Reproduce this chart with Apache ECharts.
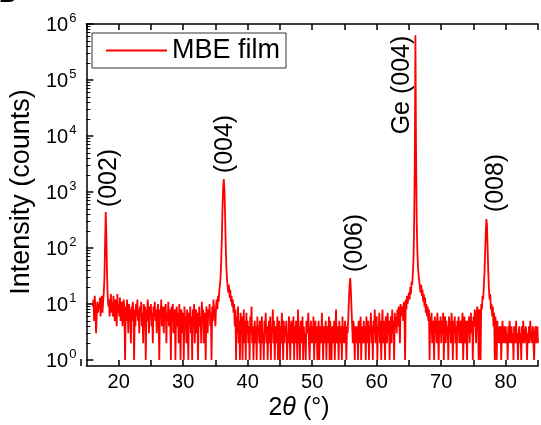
<!DOCTYPE html>
<html>
<head>
<meta charset="utf-8">
<script src="https://cdn.jsdelivr.net/npm/echarts@6/dist/echarts.min.js"></script>
<style>html,body{margin:0;padding:0;background:#fff}#c{width:541px;height:425px}</style>
</head>
<body>
<div id="c"></div>
<script>
// 2theta grid of the scan (degrees)
const scanStart = 16.0;
const scanStep = 0.1;
// Intensity (counts), one value per 0.1 deg (16.0 ... 85.0)
const intensity = [
  9,12,5,14,8,3,6,11,7,10,
  8,13,6,10,14,7,11,16,30,120,
  440,160,35,14,9,12,6,10,15,7,
  11,6,14,8,5,12,9,4,15,7,
  10,6,13,5,9,11,4,8,12,6,
  1,9,5,12,7,3,10,6,8,2,
  9,5,11,7,1,8,4,10,6,12,
  5,8,3,9,6,11,4,7,2,10,
  6,9,1,8,5,12,7,3,9,6,
  10,4,7,2,9,6,11,5,8,3,
  7,10,5,1,8,6,12,4,9,6,
  3,9,6,10,2,7,5,11,4,8,
  6,1,9,5,10,3,7,8,1,6,
  9,4,7,2,10,5,1,8,6,3,
  7,1,9,4,6,2,8,5,1,7,
  4,9,3,6,1,8,5,10,2,6,
  8,3,7,1,5,9,4,6,2,11,
  5,8,2,7,4,1,9,6,3,8,
  6,10,4,7,1,9,5,12,8,6,
  4,9,12,8,14,11,17,22,30,60,
  150,500,1200,1700,1100,400,110,45,28,20,
  16,22,13,18,11,14,9,12,7,10,
  4,8,1,6,3,9,2,5,1,7,
  3,6,1,4,8,2,5,1,7,3,
  5,2,4,1,6,3,9,2,4,1,
  3,5,2,4,1,6,3,4,2,5,
  1,4,6,2,3,1,5,3,7,2,
  4,1,3,5,2,6,1,4,3,8,
  2,5,1,3,4,2,6,1,3,5,
  1,4,2,7,3,1,5,2,4,3,
  5,1,3,2,6,4,1,3,5,2,
  3,6,1,4,2,5,3,1,8,2,
  4,1,5,3,2,6,1,4,2,3,
  1,5,3,4,7,2,1,3,5,2,
  4,2,6,1,3,5,2,4,1,3,
  5,1,3,4,2,7,3,1,4,2,
  3,5,1,4,2,3,6,1,5,2,
  1,4,3,2,5,1,3,8,2,4,
  3,1,5,2,4,3,1,6,2,4,
  2,5,3,1,4,3,6,12,22,29,
  17,8,4,2,5,3,1,4,2,3,
  4,1,5,3,2,6,1,4,3,2,
  5,2,4,1,6,3,2,5,1,4,
  3,7,2,4,1,5,3,8,2,4,
  6,1,4,3,7,2,5,1,4,8,
  2,5,3,1,6,4,2,7,3,5,
  1,4,6,2,8,3,5,1,7,4,
  6,3,8,4,9,5,2,10,6,8,
  9,5,11,7,1,12,8,14,10,13,
  16,12,20,15,25,22,35,60,250,3000,
  630000,5000,300,90,45,32,25,20,16,22,
  14,18,11,15,9,13,7,10,6,9,
  5,8,1,6,3,7,2,5,4,1,
  6,3,5,2,7,4,1,5,3,6,
  2,5,3,7,1,4,6,2,5,3,
  4,1,6,3,5,2,7,4,1,5,
  3,6,2,4,1,5,3,6,2,4,
  5,2,4,7,1,3,6,2,5,4,
  1,5,3,6,2,4,7,3,5,1,
  6,4,8,5,2,7,9,6,1,8,
  7,1,10,8,14,12,20,35,80,180,
  330,250,90,35,18,12,15,8,10,6,
  9,4,7,1,6,3,1,5,2,4,
  3,2,4,1,3,5,2,4,3,2,
  4,2,3,1,4,2,5,3,2,4,
  2,3,1,4,3,2,5,2,3,1,
  3,4,2,3,1,4,2,5,3,2,
  2,4,3,1,3,2,4,2,5,3,
  3,2,4,2,1,3,4,2,3,4,
  2
];
const seriesName = 'MBE film';
const xTickLabels = [20, 30, 40, 50, 60, 70, 80];
const yMajorTicks = [1, 10, 100, 1000, 10000, 100000, 1000000];
const peakLabels = ['(002)', '(004)', '(006)', 'Ge (004)', '(008)'];

const yMinorTicks = [];
for (let d = 0; d < 6; d++) for (let m = 2; m <= 9; m++) yMinorTicks.push(m * Math.pow(10, d));

const data = intensity.map((v, i) => [+(scanStart + i * scanStep).toFixed(2), v]);

const FONT = 'Liberation Sans, Arial, sans-serif';
const chart = echarts.init(document.getElementById('c'), null, { renderer: 'canvas' });

const labelPos = [[109, 178], [225, 144], [355, 243], [402, 85], [496, 183]];

chart.setOption({
  animation: false,
  backgroundColor: '#fff',
  textStyle: { fontFamily: FONT },
  grid: { left: 81, top: 24, width: 465, height: 336, containLabel: false },
  legend: {
    show: true,
    left: 92, top: 33,
    padding: [4, 6, 4, 14],
    borderColor: '#333', borderWidth: 1, borderRadius: 0,
    itemWidth: 61, itemHeight: 14,
    textStyle: { fontSize: 27, color: '#000', fontFamily: FONT },
    data: [{ name: seriesName, icon: 'path://M0,6 L61,6 L61,8 L0,8 Z', itemStyle: { color: '#ff0000' } }]
  },
  xAxis: [{
    type: 'value', min: 15, max: 85, interval: 5, position: 'bottom', offset: 6,
    axisLine: { show: true, lineStyle: { color: '#000', width: 1.5 } },
    axisTick: { show: true, inside: true, length: 6, lineStyle: { color: '#000', width: 1.5 } },
    axisLabel: {
      margin: 6, fontSize: 20, color: '#000', fontFamily: FONT,
      formatter: v => (xTickLabels.indexOf(v) >= 0 ? String(v) : '')
    },
    splitLine: { show: false }
  }, {
    type: 'value', min: 15, max: 85, interval: 5, position: 'top',
    axisLine: { show: true, lineStyle: { color: '#000', width: 1.5 } },
    axisTick: { show: true, inside: true, length: 6, lineStyle: { color: '#000', width: 1.5 } },
    axisLabel: { show: false },
    splitLine: { show: false }
  }],
  yAxis: [{
    type: 'log', min: 1, max: 1000000, logBase: 10, position: 'left',
    name: 'Intensity (counts)', nameLocation: 'middle', nameGap: 47,
    nameTextStyle: { fontSize: 27, color: '#000', fontFamily: FONT },
    axisLine: { show: true, lineStyle: { color: '#000', width: 1.5 } },
    axisTick: { show: true, inside: true, length: 7, customValues: yMajorTicks, lineStyle: { color: '#000', width: 1.5 } },
    axisLabel: {
      customValues: yMajorTicks, margin: 10, color: '#000', fontFamily: FONT,
      formatter: v => '{b|10}{s|' + Math.round(Math.log10(v)) + '}',
      rich: {
        b: { fontSize: 20, color: '#000', fontFamily: FONT, verticalAlign: 'bottom', lineHeight: 22 },
        s: { fontSize: 13, color: '#000', fontFamily: FONT, verticalAlign: 'bottom', lineHeight: 22, padding: [0, 0, 10, 1] }
      }
    },
    splitLine: { show: false }
  }, {
    type: 'log', min: 1, max: 1000000, logBase: 10, position: 'left',
    axisLine: { show: false },
    axisTick: { show: true, inside: true, length: 4, customValues: yMinorTicks, lineStyle: { color: '#000', width: 1 } },
    axisLabel: { show: false },
    splitLine: { show: false }
  }],
  series: [{
    name: seriesName, type: 'line', xAxisIndex: 0, yAxisIndex: 0,
    data: data, showSymbol: false, symbol: 'none', sampling: null,
    lineStyle: { color: '#ff0000', width: 1.8 }, itemStyle: { color: '#ff0000' },
    clip: true
  }],
  graphic: [
    { type: 'line', shape: { x1: 81, y1: 359, x2: 81, y2: 366 }, style: { stroke: '#000', lineWidth: 1.5 } },
    { type: 'text', x: -1, y: -17, style: { text: 'B', font: 'bold 24px ' + FONT, fill: '#000' } },
    {
      type: 'text', x: 299, y: 408,
      style: {
        text: '{n|2}{i|θ}{n| (°)}', align: 'center', verticalAlign: 'middle',
        rich: {
          n: { fontSize: 25, fontFamily: FONT, fill: '#000', color: '#000' },
          i: { fontSize: 25, fontFamily: FONT, fontStyle: 'italic', fill: '#000', color: '#000' }
        }
      }
    }
  ].concat(peakLabels.map((t, k) => ({
    type: 'text', x: labelPos[k][0], y: labelPos[k][1], rotation: Math.PI / 2,
    style: { text: t, x: 0, y: 0, align: 'center', verticalAlign: 'middle', font: '25px ' + FONT, fill: '#000' }
  })))
});
</script>
</body>
</html>
